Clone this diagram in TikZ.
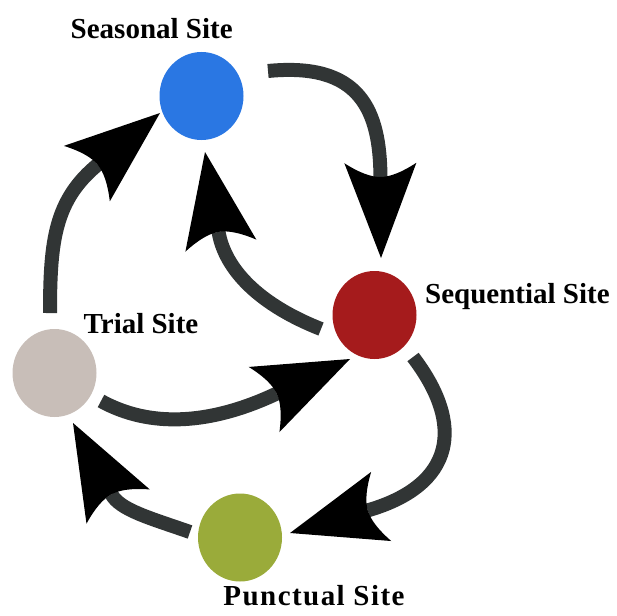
\documentclass[tikz,border=0pt]{standalone}
\usepackage{fontspec}
\setmainfont{Liberation Serif}
\usetikzlibrary{arrows.meta,calc,shapes.geometric}

\definecolor{seasonblue}{HTML}{2A77E3}
\definecolor{seqred}{HTML}{A51B1C}
\definecolor{trialbeige}{HTML}{C8BEB8}
\definecolor{punctgreen}{HTML}{9AAB3A}
\definecolor{linkgray}{HTML}{313535}

% Kite-shaped tip with a curved, swept-back rear edge
\pgfdeclarearrow{
  name = Wing,
  parameters = {\the\pgfarrowlength,\the\pgfarrowwidth,\the\pgfarrowinset},
  setup code = {
    \pgfarrowssettipend{\pgfarrowlength}
    \pgfarrowssetbackend{0pt}
    \pgfarrowssetlineend{\pgfarrowinset}
    \pgfarrowssavethe\pgfarrowlength
    \pgfarrowssavethe\pgfarrowwidth
    \pgfarrowssavethe\pgfarrowinset
  },
  drawing code = {
    \pgfpathmoveto{\pgfqpoint{\pgfarrowlength}{0pt}}
    \pgfpathlineto{\pgfqpoint{0pt}{.5\pgfarrowwidth}}
    \pgfpathquadraticcurveto{\pgfqpoint{\pgfarrowinset}{.2\pgfarrowwidth}}{\pgfqpoint{\pgfarrowinset}{0pt}}
    \pgfpathquadraticcurveto{\pgfqpoint{\pgfarrowinset}{-.2\pgfarrowwidth}}{\pgfqpoint{0pt}{-.5\pgfarrowwidth}}
    \pgfpathclose
    \pgfusepathqfill
  },
  defaults = {length=95pt, width=72pt, inset=14pt}
}

\begin{document}
\begin{tikzpicture}[x=1pt,y=-1pt,
  site/.style={ellipse, minimum width=84pt, minimum height=88pt, inner sep=0pt, draw=none},
  link/.style={line width=14pt, draw=linkgray, -{Wing[color=black]}},
  lab/.style={anchor=base, inner sep=0pt, font=\bfseries\fontsize{29}{30}\selectfont}]
\useasboundingbox (0,0) rectangle (617,615);

% sites
\node[site, fill=seasonblue] (S) at (201.5,96) {};
\node[site, fill=seqred]     (Q) at (374.5,315) {};
\node[site, fill=trialbeige] (T) at (54.5,373) {};
\node[site, fill=punctgreen] (P) at (240,537.5) {};

% labels
\node[lab] (Slab) at (151.7,38.3) {Seasonal Site};
\node[lab] (Qlab) at (517.4,303.3) {Sequential Site};
\node[lab] (Tlab) at (141,333) {Trial Site};
\node[lab] (Plab) at (314,605) {\addfontfeature{LetterSpace=5}Punctual Site};

% transitions
\draw[link] ($(S)+(66.5,-25)$) .. controls (360,62) and (380,110) .. ($(Q)+(6.5,-57)$);
\draw[link] ($(Q)+(-53.5,14)$) .. controls (260,305) and (225,270) .. ($(S)+(3.5,56)$);
\draw[link] ($(T)+(-4.5,-60)$) .. controls (50,240) and (55,200) .. ($(S)+(-41.5,17)$);
\draw[link] ($(T)+(46.5,28)$) .. controls (150,428) and (210,425) .. ($(Q)+(-24.5,44)$);
\draw[link] ($(Q)+(38.5,42)$) .. controls (465,425) and (455,485) .. ($(P)+(50,-4.5)$);
\draw[link] ($(P)+(-50,-5.5)$) .. controls (150,518) and (120,510) .. ($(T)+(18.5,50)$);
\end{tikzpicture}
\end{document}
